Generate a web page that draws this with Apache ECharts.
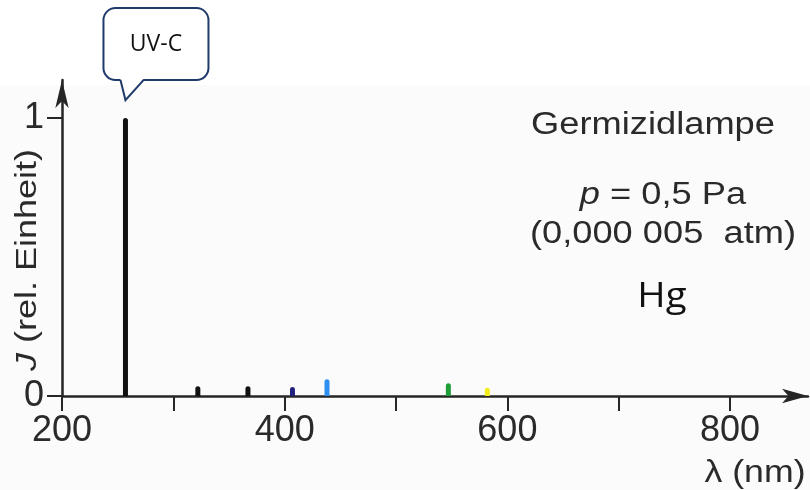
<!DOCTYPE html>
<html>
<head>
<meta charset="utf-8">
<script src="https://cdn.jsdelivr.net/npm/echarts@6/dist/echarts.min.js"></script>
<style>html,body{margin:0;padding:0;background:#fff;}#c{width:810px;height:490px;}</style>
</head>
<body>
<div id="c"></div>
<script>
// ---- data ----
const wavelengths = [257, 322, 367, 407, 438, 547, 582];          // nm
const intensities = [1, 0.035, 0.035, 0.032, 0.06, 0.046, 0.03];  // rel. units
const lineColors = ['#111111', '#111111', '#111111', '#22227e', '#2e8ff0', '#1e9e36', '#f2ee1a'];
const xTickValues = [200, 300, 400, 500, 600, 700, 800];
const xLabelValues = [200, 400, 600, 800];
const yTickValues = [0, 1];
const calloutText = 'UV-C';
const titleLines = ['Germizidlampe', '{i|p} = 0,5 Pa', '(0,000 005  atm)'];
const elementText = 'Hg';

const chart = echarts.init(document.getElementById('c'), null, {renderer: 'canvas'});
const axisColor = '#262626';
const textColor = '#2a2a2a';
const baseFont = 'Liberation Sans, Arial, Helvetica, sans-serif';

const option = {
  backgroundColor: '#ffffff',
  animation: false,
  grid: {left: 62, right: 2, top: 80, bottom: 94, containLabel: false},
  xAxis: {
    type: 'value', min: 200, max: 870,
    axisLine: {show: true, onZero: false, symbol: ['none', 'arrow'], symbolSize: [11, 26],
      lineStyle: {color: axisColor, width: 2.5}},
    axisTick: {show: true, customValues: xTickValues, length: 15, inside: false,
      lineStyle: {color: axisColor, width: 2}},
    axisLabel: {show: true, customValues: xLabelValues, margin: 17, fontSize: 36,
      fontFamily: baseFont, color: textColor},
    splitLine: {show: false}
  },
  yAxis: {
    type: 'value', min: 0, max: 1.137,
    axisLine: {show: true, onZero: false, symbol: ['none', 'arrow'], symbolSize: [10, 28],
      lineStyle: {color: axisColor, width: 2.5}},
    axisTick: {show: true, customValues: yTickValues, length: 15, inside: false,
      lineStyle: {color: axisColor, width: 2}},
    axisLabel: {show: true, customValues: yTickValues, margin: 18, fontSize: 36,
      fontFamily: baseFont, color: textColor},
    splitLine: {show: false}
  },
  series: [{
    type: 'bar',
    barWidth: 5,
    data: wavelengths.map((w, i) => ({
      value: [w, intensities[i]],
      itemStyle: {color: lineColors[i], borderRadius: [2.5, 2.5, 0, 0]}
    })),
    z: 3
  }]
};
chart.setOption(option);

// anchor the callout to the top of the strongest line
const peakPx = chart.convertToPixel({gridIndex: 0}, [wavelengths[0], intensities[0]]);
const tipX = peakPx[0], tipY = peakPx[1] - 18;
const calloutStroke = '#1f3a6b';

const gfx = [
  {type: 'rect', z: -100, silent: true, shape: {x: 0, y: 85, width: 810, height: 405},
   style: {fill: '#fbfbfb'}},
  {type: 'group', x: tipX, y: tipY, z: 100, children: [
    {type: 'rect', shape: {x: -22, y: -92, width: 105, height: 72, r: 12},
     style: {fill: '#ffffff', stroke: calloutStroke, lineWidth: 2}},
    {type: 'polygon', shape: {points: [[-5, -21.2], [0, 0], [18, -21.2]]},
     style: {fill: '#ffffff', stroke: null}},
    {type: 'polyline', shape: {points: [[-5, -20], [0, 0], [18, -20]]},
     style: {fill: null, stroke: calloutStroke, lineWidth: 2, lineJoin: 'miter'}},
    {type: 'text', x: 30.5, y: -56,
     style: {text: calloutText, font: '23px "Open Sans", sans-serif', fill: '#111',
             align: 'center', verticalAlign: 'middle'}}
  ]},
  {type: 'text', x: 653, y: 125, scaleX: 1.17, z: 50,
   style: {text: titleLines[0], font: '31px ' + baseFont, fill: textColor,
           align: 'center', verticalAlign: 'middle'}},
  {type: 'text', x: 663, y: 195, scaleX: 1.17, z: 50,
   style: {text: titleLines[1], font: '31px ' + baseFont, fill: textColor,
           align: 'center', verticalAlign: 'middle',
           rich: {i: {fontStyle: 'italic', fontSize: 31, fontFamily: baseFont, fill: textColor}}}},
  {type: 'text', x: 663, y: 234, scaleX: 1.17, z: 50,
   style: {text: titleLines[2], font: '31px ' + baseFont, fill: textColor,
           align: 'center', verticalAlign: 'middle'}},
  {type: 'text', x: 662, y: 297, scaleX: 1.1, z: 50,
   style: {text: elementText, font: '35px "Open Sans", sans-serif', fill: '#111',
           align: 'center', verticalAlign: 'middle'}},
  {type: 'text', x: 28, y: 260, rotation: Math.PI / 2, scaleX: 1.2, z: 50,
   style: {text: '{i|J} (rel. Einheit)', font: '30px ' + baseFont, fill: textColor,
           align: 'center', verticalAlign: 'middle',
           rich: {i: {fontStyle: 'italic', fontSize: 30, fontFamily: baseFont, fill: textColor}}}},
  {type: 'text', x: 755, y: 473, scaleX: 1.15, z: 50,
   style: {text: 'λ (nm)', font: '31px ' + baseFont, fill: textColor,
           align: 'center', verticalAlign: 'middle'}}
];
chart.setOption({graphic: gfx});
</script>
</body>
</html>
